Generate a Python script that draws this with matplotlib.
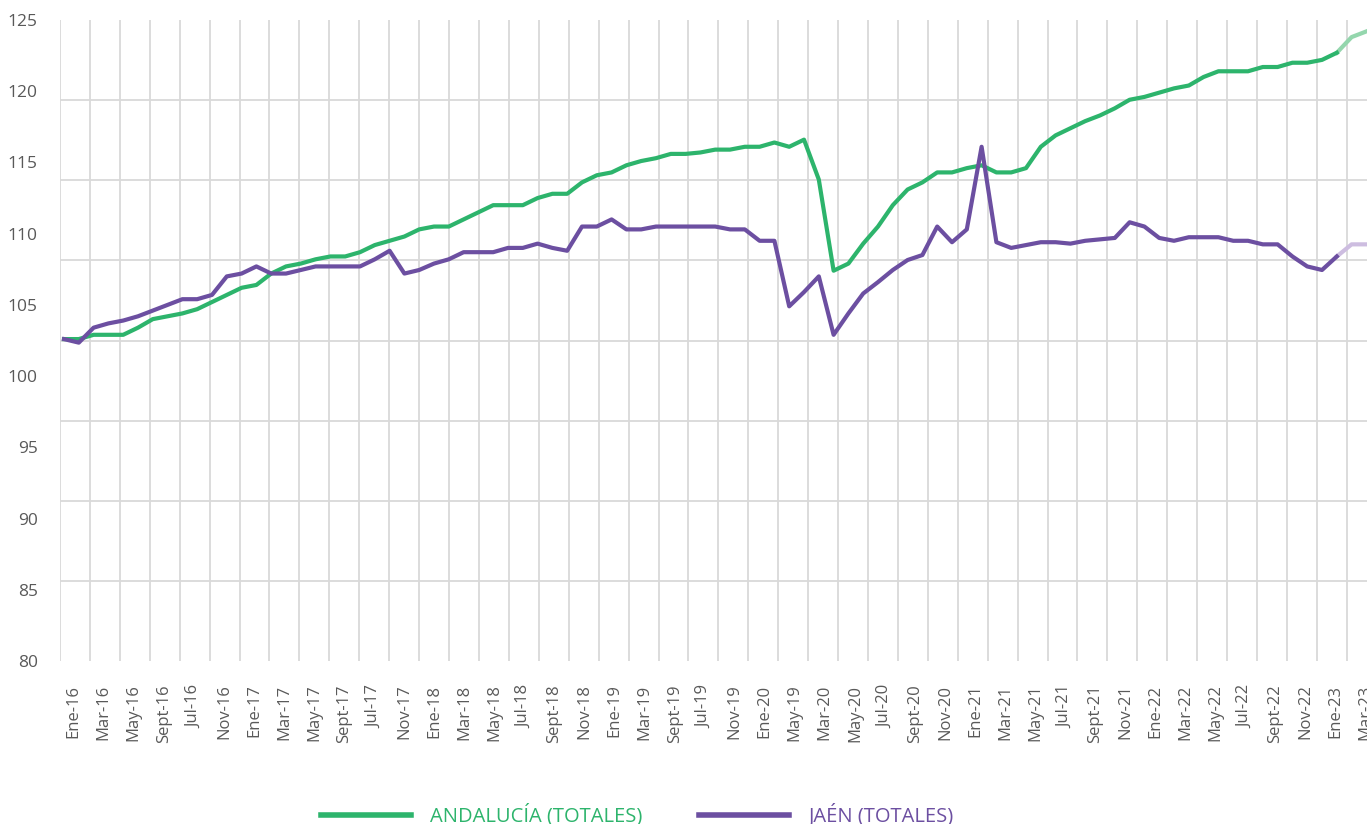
import matplotlib
matplotlib.use("Agg")
import matplotlib.pyplot as plt
import numpy as np

plt.rcParams["font.family"] = ["Open Sans", "DejaVu Sans"]

# monthly index, last two points are provisional (lighter colour)
andalucia = [
    102.6, 102.6, 102.9, 102.9, 102.9, 103.4, 104.0, 104.2, 104.4, 104.7,
    105.2, 105.7, 106.2, 106.4, 107.2, 107.7, 107.9, 108.2, 108.4, 108.4,
    108.7, 109.2, 109.5, 109.8, 110.3, 110.5, 110.5, 111.0, 111.5, 112.0,
    112.0, 112.0, 112.5, 112.8, 112.8, 113.6, 114.1, 114.3, 114.8, 115.1,
    115.3, 115.6, 115.6, 115.7, 115.9, 115.9, 116.1, 116.1, 116.4, 116.1,
    116.6, 113.8, 107.4, 107.9, 109.3, 110.5, 112.0, 113.1, 113.6, 114.3,
    114.3, 114.6, 114.8, 114.3, 114.3, 114.6, 116.1, 116.9, 117.4, 117.9,
    118.3, 118.8, 119.4, 119.6, 119.9, 120.2, 120.4, 121.0, 121.4, 121.4,
    121.4, 121.7, 121.7, 122.0, 122.0, 122.2, 122.7, 123.8, 124.2,
]
jaen = [
    102.6, 102.35, 103.4, 103.7, 103.9, 104.2, 104.6, 105.0, 105.4, 105.4,
    105.7, 107.0, 107.2, 107.7, 107.2, 107.2, 107.45, 107.7, 107.7, 107.7,
    107.7, 108.2, 108.8, 107.2, 107.45, 107.9, 108.2, 108.7, 108.7, 108.7,
    109.0, 109.0, 109.3, 109.0, 108.8, 110.5, 110.5, 111.0, 110.3, 110.3,
    110.5, 110.5, 110.5, 110.5, 110.5, 110.3, 110.3, 109.5, 109.5, 104.9,
    105.9, 107.0, 102.9, 104.4, 105.8, 106.6, 107.45, 108.15, 108.5, 110.5,
    109.4, 110.3, 116.1, 109.4, 109.0, 109.2, 109.4, 109.4, 109.3, 109.5,
    109.6, 109.7, 110.8, 110.5, 109.7, 109.5, 109.75, 109.75, 109.75, 109.5,
    109.5, 109.25, 109.25, 108.4, 107.7, 107.45, 108.4, 109.25, 109.25,
]
last_solid = 86

x_labels = [
    "Ene-16", "Mar-16", "May-16", "Sept-16", "Jul-16", "Nov-16",
    "Ene-17", "Mar-17", "May-17", "Sept-17", "Jul-17", "Nov-17",
    "Ene-18", "Mar-18", "May-18", "Jul-18", "Sept-18", "Nov-18",
    "Ene-19", "Mar-19", "Sept-19", "Jul-19", "Nov-19", "Ene-20",
    "May-19", "Mar-20", "May-20", "Jul-20", "Sept-20", "Nov-20",
    "Ene-21", "Mar-21", "May-21", "Jul-21", "Sept-21", "Nov-21",
    "Ene-22", "Mar-22", "May-22", "Jul-22", "Sept-22", "Nov-22",
    "Ene-23", "Mar-23",
]
y_labels = [80, 85, 90, 95, 100, 105, 110, 115, 120, 125]

GREEN = "#2db46c"
GREEN_LIGHT = "#94d6ad"
PURPLE = "#6c4fa1"
PURPLE_LIGHT = "#cdbde0"
TEXT = "#595959"
GRID = "#d9d9d9"

W, H = 1367, 824
fig = plt.figure(figsize=(W / 100, H / 100), dpi=100)
ax = fig.add_axes([60 / W, (H - 661) / H, 1307 / W, 641 / H])

x = np.arange(len(andalucia))
s = last_solid + 1
ax.plot(x[:s], andalucia[:s], color=GREEN, lw=3, zorder=4, label="ANDALUCÍA (TOTALES)")
ax.plot(x[last_solid:], andalucia[last_solid:], color=GREEN_LIGHT, lw=3, zorder=3)
ax.plot(x[:s], jaen[:s], color=PURPLE, lw=3, zorder=4, label="JAÉN (TOTALES)")
ax.plot(x[last_solid:], jaen[last_solid:], color=PURPLE_LIGHT, lw=3, zorder=3)

ax.set_xlim(-0.27, 88.04)
ax.set_ylim(80, 125)

# labels and grid lines do not share positions in the original
ax.set_yticks(y_labels)
ax.set_yticklabels([str(v) for v in y_labels])
ax.set_yticks([80 + 45 / 8 * k for k in range(9)], minor=True)
ax.set_xticks([0.66 + 2.03 * k for k in range(len(x_labels))])
ax.set_xticklabels(x_labels, rotation=90, va="top", ha="center")
ax.set_xticks([-0.27 + 2.022 * m for m in range(44)], minor=True)

ax.grid(False, which="major")
ax.grid(True, which="minor", color=GRID, lw=1.3)
ax.set_axisbelow(True)
for sp in ax.spines.values():
    sp.set_visible(False)
ax.tick_params(which="both", length=0)
ax.tick_params(axis="y", which="major", pad=16, labelsize=12.5, labelcolor=TEXT)
ax.tick_params(axis="x", which="major", pad=17, labelsize=12, labelcolor=TEXT)

leg = fig.legend(
    loc="center", bbox_to_anchor=(637 / W, 9 / H), ncol=2, frameon=False,
    fontsize=14.5, handlelength=4.47, handletextpad=0.95, columnspacing=2.83,
    labelcolor="linecolor",
)
for line in leg.get_lines():
    line.set_linewidth(4)

fig.savefig("out.png", dpi=100)
